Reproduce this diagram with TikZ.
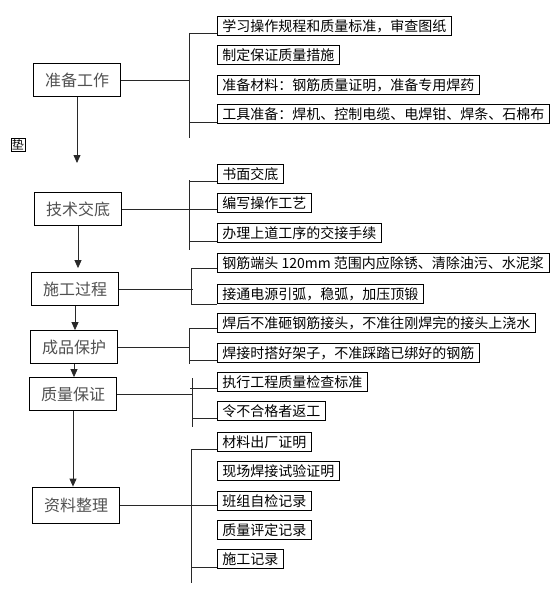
\documentclass[tikz,border=0pt]{standalone}
\usepackage{fontspec}
\newfontfamily\cjk{Noto Sans CJK SC}
\usepackage{tikz}
\usetikzlibrary{calc,arrows.meta}
\definecolor{linegray}{RGB}{40,40,40}
\definecolor{textgray}{RGB}{80,80,80}

\begin{document}
\begin{tikzpicture}[x=1pt,y=-1pt,line width=0.8pt,every node/.style={font=\cjk}]
  \tikzstyle{stage}=[draw, minimum width=87pt, minimum height=33pt, inner sep=2pt, text=textgray, font=\cjk\fontsize{16}{16}\selectfont]
  \tikzstyle{item}=[draw, anchor=south west, minimum height=19pt, inner xsep=5pt, inner ysep=1pt, font=\cjk\fontsize{14}{14}\selectfont]
  \tikzstyle{wire}=[draw=linegray]
  \tikzstyle{arr}=[wire, -{Triangle[width=7pt,length=8pt]}]
  \useasboundingbox (0,0) rectangle (553,591);

  % left column
  \node[stage] (prep)  at (77,80)  {准备工作};
  \node[stage] (tech)  at (78,209) {技术交底};
  \node[stage] (build) at (75,289) {施工过程};
  \node[stage] (prot)  at (74,347) {成品保护};
  \node[stage] (qual)  at (73,394) {质量保证};
  \node[stage, minimum height=36pt] (docs) at (76,505) {资料整理};
  \node[draw, inner sep=1pt, font=\cjk\fontsize{12}{12}\selectfont] (pad) at (18,145) {垫};

  % right column
  \node[item] (i11) at (217,36)  {学习操作规程和质量标准，审查图纸};
  \node[item] (i12) at (217,65)  {制定保证质量措施};
  \node[item] (i13) at (217,95)  {准备材料：钢筋质量证明，准备专用焊药};
  \node[item] (i14) at (217,124) {工具准备：焊机、控制电缆、电焊钳、焊条、石棉布};
  \node[item] (i21) at (217,184) {书面交底};
  \node[item] (i22) at (217,213) {编写操作工艺};
  \node[item] (i23) at (217,243) {办理上道工序的交接手续};
  \node[item] (i31) at (217,273) {钢筋端头 120mm 范围内应除锈、清除油污、水泥浆};
  \node[item] (i32) at (217,304) {接通电源引弧，稳弧，加压顶锻};
  \node[item] (i41) at (217,333) {焊后不准砸钢筋接头，不准往刚焊完的接头上浇水};
  \node[item] (i42) at (217,363) {焊接时搭好架子，不准踩踏已绑好的钢筋};
  \node[item] (i51) at (217,392) {执行工程质量检查标准};
  \node[item] (i52) at (217,421) {令不合格者返工};
  \node[item] (i61) at (217,452) {材料出厂证明};
  \node[item] (i62) at (217,481) {现场焊接试验证明};
  \node[item] (i63) at (217,511) {班组自检记录};
  \node[item] (i64) at (217,540) {质量评定记录};
  \node[item] (i65) at (217,569) {施工记录};

  % brackets
  \coordinate (b1t) at (189,33);  \coordinate (b1b) at (189,138);
  \coordinate (b2t) at (189,180); \coordinate (b2b) at (189,250);
  \coordinate (b3t) at (191,268); \coordinate (b3b) at (191,305);
  \coordinate (b4t) at (189,328); \coordinate (b4b) at (189,364);
  \coordinate (b5t) at (192,378); \coordinate (b5b) at (192,427);
  \coordinate (b6t) at (191,449); \coordinate (b6b) at (191,583);
  \draw[wire] (b1t) -- (b1b);
  \draw[wire] (b2t) -- (b2b);
  \draw[wire] (b3t) -- (b3b);
  \draw[wire] (b4t) -- (b4b);
  \draw[wire] (b5t) -- (b5b);
  \draw[wire] (b6t) -- (b6b);

  % stage to bracket
  \draw[wire] (prep.east)  -- (prep.east -| b1t);
  \draw[wire] (tech.east)  -- (tech.east -| i22.west);
  \draw[wire] (build.east) -- ($(build.east -| b3t)+(2,0)$);
  \draw[wire] (prot.east)  -- (prot.east -| b4t);
  \draw[wire] (qual.east)  -- ($(qual.east -| b5t)+(1,0)$);
  \draw[wire] (docs.east)  -- (docs.east -| i63.west);

  % bracket to items
  \draw[wire] ($(i11.south west)+(0,-3)$) -- ($(i11.south west -| b1t)+(0,-3)$);
  \draw[wire] ($(i14.south west)+(0,-2)$) -- ($(i14.south west -| b1t)+(0,-2)$);
  \draw[wire] ($(i21.south west)+(0,-3)$) -- ($(i21.south west -| b2t)+(0,-3)$);
  \draw[wire] ($(i23.south west)+(0,-2)$) -- ($(i23.south west -| b2t)+(0,-2)$);
  \draw[wire] ($(i31.south west)+(0,-5)$) -- ($(i31.south west -| b3t)+(0,-5)$);
  \draw[wire] ($(i32.south west)+(0,0)$)  -- ($(i32.south west -| b3t)+(0,0)$);
  \draw[wire] ($(i41.south west)+(0,-5)$) -- ($(i41.south west -| b4t)+(0,-5)$);
  \draw[wire] ($(i42.south west)+(0,-3)$) -- ($(i42.south west -| b4t)+(0,-3)$);
  \draw[wire] ($(i51.south west)+(0,-4)$) -- ($(i51.south west -| b5t)+(-2,-4)$);
  \draw[wire] ($(i52.south west)+(0,-3)$) -- ($(i52.south west -| b5t)+(0,-3)$);
  \draw[wire] ($(i61.south west)+(0,-3)$) -- ($(i61.south west -| b6t)+(0,-3)$);
  \draw[wire] ($(i65.south west)+(0,-2)$) -- ($(i65.south west -| b6t)+(0,-2)$);

  % flow arrows
  \coordinate (a1) at (77,163);
  \draw[arr] (prep.south) -- (a1);
  \draw[arr, shorten >=4pt] (tech.south)  -- (tech.south |- build.north);
  \draw[arr] (build.south) -- (build.south |- prot.north);
  \draw[arr] (prot.south)  -- (prot.south |- qual.north);
  \draw[arr] (qual.south)  -- (qual.south |- docs.north);
\end{tikzpicture}
\end{document}
